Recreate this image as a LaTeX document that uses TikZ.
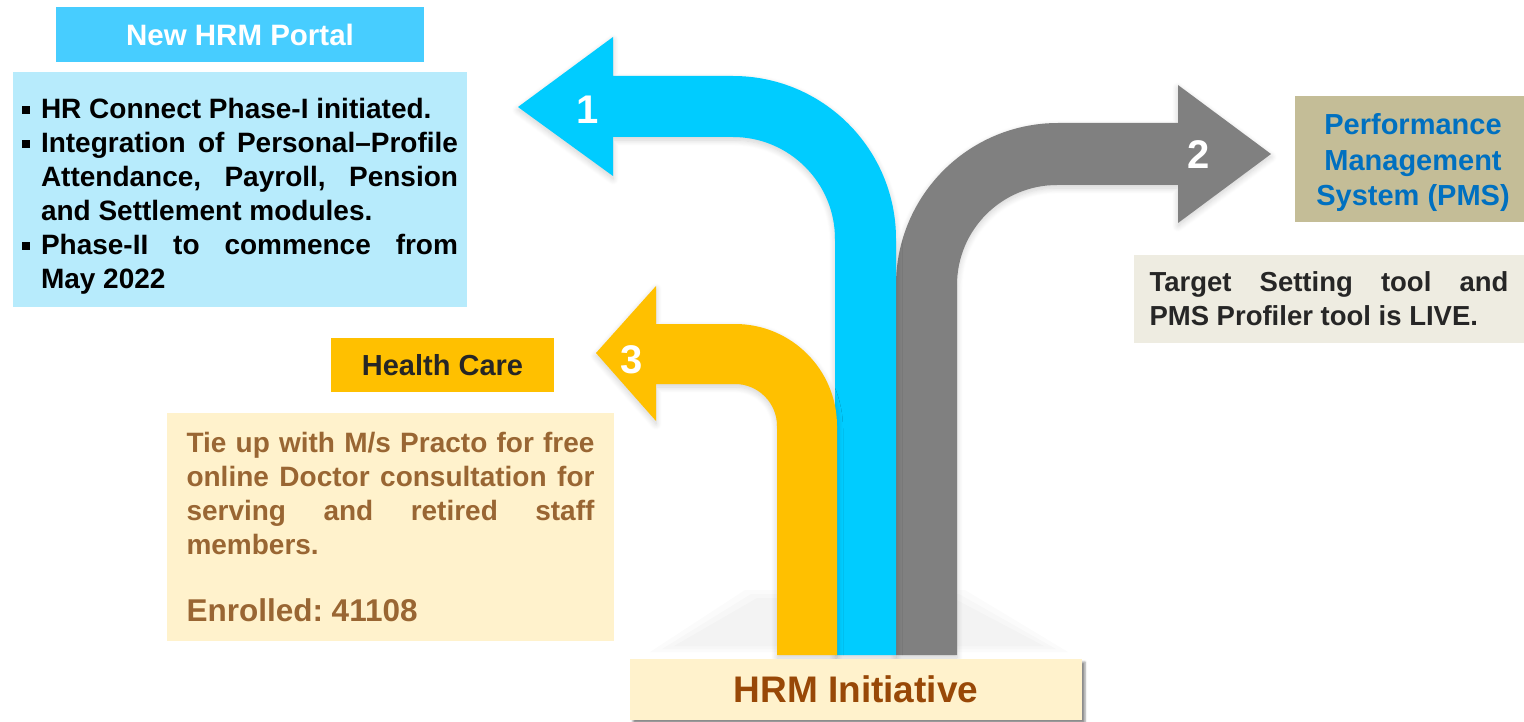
\documentclass[tikz,border=0pt]{standalone}
\usepackage{fontspec}
\setmainfont{Liberation Sans}
\usetikzlibrary{shadows.blur}
\definecolor{portalcyan}{HTML}{47CDFF}
\definecolor{portallight}{HTML}{B7EBFC}
\definecolor{arrowcyan}{HTML}{00CCFF}
\definecolor{arrowgray}{HTML}{808080}
\definecolor{arrowgold}{HTML}{FFC000}
\definecolor{cream}{HTML}{FFF2CC}
\definecolor{pmstan}{HTML}{C4BD97}
\definecolor{pmsblue}{HTML}{0070C0}
\definecolor{paleolive}{HTML}{EEECE1}
\definecolor{darktext}{HTML}{262626}
\definecolor{browntext}{HTML}{996633}
\definecolor{rust}{HTML}{984807}
\hyphenpenalty=10000
\exhyphenpenalty=10000
\frenchspacing
\newcommand{\hrmitem}{\par\noindent\hangindent=19pt\hangafter=1\makebox[19pt][l]{\rule[5pt]{8pt}{8pt}}}
\tikzset{
  num/.style={white, font=\fontsize{40}{40}\selectfont\bfseries},
  infobox/.style={inner ysep=0pt, align=justify},
  arrowshadow/.style={blur shadow={shadow xshift=0pt, shadow yshift=-3pt,
      shadow opacity=18, shadow blur radius=6pt, shadow blur steps=8}}
}
\begin{document}
\begin{tikzpicture}[x=1pt, y=-1pt]
  \useasboundingbox (0,0) rectangle (1524,722);
  % floor shade under the arrows
  \foreach \s in {0,12,24}
    \fill[black, opacity=0.014] (650+\s,652-\s/4) -- (745+\s/2,590+\s/3) -- (965-\s/2,590+\s/3) -- (1068-\s,652-\s/4) -- cycle;
  % arrow 2
  \fill[arrowgray, arrowshadow] (896,655) -- (896,285)
    arc[start angle=180, end angle=270, radius=162] -- (1178,123) -- (1178,85)
    -- (1271,154) -- (1178,223) -- (1178,185) -- (1057,185)
    arc[start angle=270, end angle=180, radius=100] -- (957,655) -- cycle;
  % arrow 1
  \fill[arrowcyan, arrowshadow] (896,655) -- (896,239)
    arc[start angle=0, end angle=-90, radius=163] -- (613,76) -- (613,37)
    -- (518,107) -- (613,176) -- (613,137) -- (733,137)
    arc[start angle=-90, end angle=0, radius=102] -- (835,655) -- cycle;
  % arrow 3
  \fill[arrowgold, arrowshadow] (837,655) -- (837,426)
    arc[start angle=0, end angle=-90, radius=102] -- (656,324) -- (656,286)
    -- (596,353) -- (656,421) -- (656,384) -- (735,384)
    arc[start angle=-90, end angle=0, radius=42] -- (777,655) -- cycle;
  \node[num] (one) at (588,110) {1};
  \node[num] (two) at (1199,155) {2};
  \node[num] (three) at (632,360) {3};
  % portal
  \node[fill=portalcyan, text=white, inner ysep=0pt, minimum width=368pt, minimum height=55pt,
    font=\fontsize{29.5}{34}\selectfont\bfseries] (portal) at (240,34.5) {New HRM Portal};
  \node[infobox, fill=portallight, text width=436pt, inner xsep=9pt, minimum height=235pt,
    font=\fontsize{28}{34}\selectfont\bfseries] (portalinfo) at (240,189.5)
    {\hrmitem HR Connect Phase-I initiated.
     \hrmitem Integration of Personal–Profile\linebreak Attendance, Payroll, Pension\linebreak and Settlement modules.
     \hrmitem Phase-II to commence from\linebreak May 2022\par};
  % health care
  \node[fill=arrowgold, text=darktext, inner ysep=0pt, minimum width=223pt, minimum height=54pt,
    font=\fontsize{29}{34}\selectfont\bfseries] (health) at (442.5,365) {Health Care};
  \node[infobox, fill=cream, text=browntext, text width=408pt, inner xsep=19.5pt, minimum height=228pt,
    font=\fontsize{28}{34}\selectfont\bfseries] (healthinfo) at (390.5,527)
    {Tie up with M/s Practo for free\linebreak online Doctor consultation for\linebreak
     serving and retired staff\linebreak members.\par\vspace{33pt}
     \fontsize{31.5}{34}\selectfont Enrolled: 41108\par};
  % pms
  \node[fill=pmstan, inner ysep=0pt, minimum width=229pt, minimum height=126pt] (pms) at (1409.5,159.5) {};
  \node[text=pmsblue, align=center, font=\fontsize{29}{35.5}\selectfont\bfseries] (pmstext) at (1413,163)
    {Performance\\Management\\System (PMS)};
  \node[infobox, fill=paleolive, text=darktext, text width=359pt, inner xsep=15.5pt, minimum height=88pt,
    font=\fontsize{27.5}{34}\selectfont\bfseries] (pmsinfo) at (1329,299)
    {Target Setting tool and\linebreak PMS Profiler tool is LIVE.};
  % initiative
  \node[fill=cream, text=rust, inner ysep=0pt, minimum width=452pt, minimum height=61pt,
    blur shadow={shadow xshift=3pt, shadow yshift=-3pt, shadow opacity=45, shadow blur radius=2pt},
    font=\fontsize{37}{40}\selectfont\bfseries] (initiative) at (856,689.5) {HRM Initiative};
\end{tikzpicture}
\end{document}
